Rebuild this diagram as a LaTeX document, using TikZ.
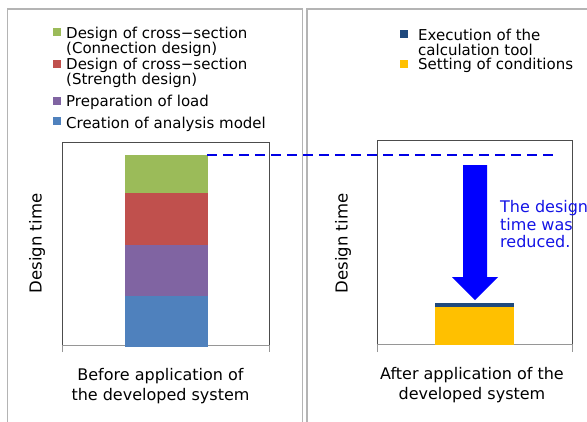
\documentclass[tikz,border=0pt]{standalone}
\usepackage{fontspec}
\setmainfont{DejaVu Sans}
\usetikzlibrary{positioning, calc}
\definecolor{cGreen}{RGB}{155,187,89}
\definecolor{cRed}{RGB}{192,80,77}
\definecolor{cPurple}{RGB}{128,100,162}
\definecolor{cBlue}{RGB}{79,129,189}
\definecolor{cNavy}{RGB}{31,73,125}
\definecolor{cYellow}{RGB}{255,192,0}
\definecolor{cFrame}{RGB}{180,180,180}
\definecolor{cAxis}{RGB}{150,150,150}
\definecolor{cNote}{RGB}{20,20,230}
\tikzset{
	panel/.style    ={draw=cFrame, line width=1.8pt},
	chartbox/.style ={draw=black!70, line width=0.9pt},
	axisline/.style ={draw=cAxis, line width=1pt},
	legsq/.style    ={rectangle, inner sep=0pt, minimum size=8pt, anchor=north west},
	legtxt/.style   ={anchor=north west, inner sep=0pt, align=left, font=\fontsize{15}{15}\selectfont},
	bar/.style      ={rectangle, inner sep=0pt, anchor=north west, minimum width=82pt},
	barfill/.style  ={fill=#1, draw=#1, line width=0.4pt},
	xlabel/.style   ={align=center, inner sep=0pt, anchor=north, font=\fontsize{16}{20}\selectfont},
	ylabel/.style   ={rotate=90, inner sep=0pt, font=\fontsize{16.5}{20}\selectfont},
	leveldash/.style={draw=blue!90!black, line width=2.5pt, dash pattern=on 10pt off 6pt},
	bigarrow/.style ={fill=blue},
}
\begin{document}
\begin{tikzpicture}[x=1pt, y=-1pt]
	\useasboundingbox (0,0) rectangle (587,421);
	\fill[white] (0,0) rectangle (587,421);
	% the two panels
	\draw[panel] (7.5,9) rectangle (302.5,440);
	\draw[panel] (307,9) rectangle (600,440);
	% legends
	\node[legsq, fill=cGreen]  (sqConn)  at (53,28)  {};
	\node[legsq, fill=cRed]    (sqStr)   at (53,60)  {};
	\node[legsq, fill=cPurple] (sqLoad)  at (53,97)  {};
	\node[legsq, fill=cBlue]   (sqModel) at (53,117) {};
	\node[legtxt] (lgConn)  at (66,26.5)  {Design of cross−section\\(Connection design)};
	\node[legtxt] (lgStr)   at (66,57.5)  {Design of cross−section\\(Strength design)};
	\node[legtxt] (lgLoad)  at (66,94.5)  {Preparation of load};
	\node[legtxt] (lgModel) at (66,116.5) {Creation of analysis model};
	\node[legsq, fill=cNavy]   (sqExec)  at (400,30) {};
	\node[legsq, fill=cYellow] (sqCond)  at (400,60) {};
	\node[legtxt] (lgExec) at (418,28.5) {Execution of the\\calculation tool};
	\node[legtxt] (lgCond) at (418,58)   {Setting of conditions};
	% chart frames
	\draw[chartbox] (62,345) -- (62,142) -- (269,142) -- (269,345);
	\draw[axisline] (62,352) -- (62,345) -- (269,345) -- (269,352);
	\draw[chartbox] (377,344) -- (377,140) -- (572,140) -- (572,344);
	\draw[axisline] (377,352) -- (377,344) -- (572,344) -- (572,352);
	% stacked bar before
	\node[bar, barfill=cGreen, minimum height=38pt] (green) at (125,155) {};
	\node[bar, barfill=cRed, minimum height=51pt, below=0pt of green] (red) {};
	\node[bar, barfill=cPurple, minimum height=51pt, below=0pt of red] (purple) {};
	\node[bar, barfill=cBlue, minimum height=50pt, below=0pt of purple] (blue) {};
	% stacked bar after
	\node[bar, barfill=cNavy, minimum width=78pt, minimum height=4pt] (navy) at (435,303) {};
	\node[bar, barfill=cYellow, minimum width=78pt, minimum height=37pt, below=0pt of navy] (yellow) {};
	% level line and reduction arrow
	\coordinate (dashEnd) at (555,156);
	\draw[leveldash] (green.north east) -- (green.north east -| dashEnd);
	\fill[bigarrow] (463,165) -- (487,165) -- (487,277) -- (498,277) -- (475,300) -- (452,277) -- (463,277) -- cycle;
	\node[anchor=north west, inner sep=0pt, align=left, text=cNote, font=\fontsize{16}{17.5}\selectfont] (note) at (500,200.5) {The design\\time was\\reduced.};
	% axis labels
	\node[ylabel] (yBefore) at (37,243.5)  {Design time};
	\node[ylabel] (yAfter)  at (343,243.5) {Design time};
	\node[xlabel] (xBefore) at (160.5,368.5) {Before application of\\the developed system};
	\node[xlabel] (xAfter)  at (472,367)     {After application of the\\developed system};
\end{tikzpicture}
\end{document}
